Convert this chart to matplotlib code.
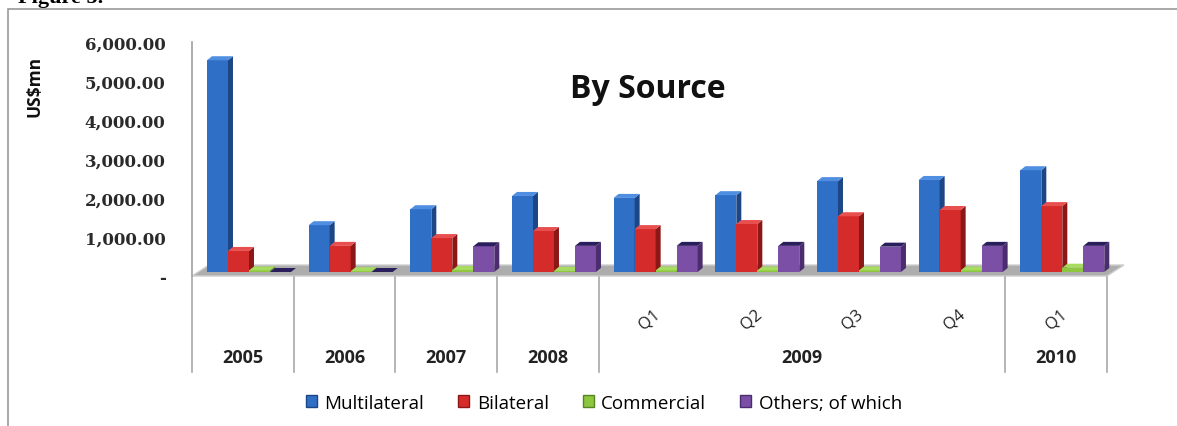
import matplotlib.pyplot as plt
from matplotlib.patches import Polygon, Rectangle, Patch
from matplotlib.ticker import FixedLocator, FuncFormatter
import matplotlib.transforms as mtransforms

# data (US$ mn)
periods = ['2005', '2006', '2007', '2008', 'Q1', 'Q2', 'Q3', 'Q4', 'Q1']
years = ['2005', '2006', '2007', '2008', '2009', '2010']
year_spans = [(0, 1), (1, 2), (2, 3), (3, 4), (4, 8), (8, 9)]
multilateral = [5430, 1200, 1610, 1950, 1900, 1970, 2330, 2360, 2610]
bilateral = [540, 670, 870, 1050, 1100, 1230, 1430, 1590, 1690]
commercial = [40, 20, 50, 30, 40, 40, 40, 40, 110]
others = [0, 0, 660, 670, 670, 670, 650, 670, 670]

series = [multilateral, bilateral, commercial, others]
names = ['Multilateral', 'Bilateral', 'Commercial', 'Others; of which']
front = ['#2f6fc6', '#d62b2b', '#8dc63f', '#7b4fa6']
side = ['#1d4686', '#8c1717', '#5a8424', '#4b2c6e']
top = ['#4f8ee0', '#e85050', '#a8dc60', '#2a1f5c']

W, H = 1177, 427
fig = plt.figure(figsize=(W / 100, H / 100), dpi=100)
ax = fig.add_axes([192 / W, 1 - 277 / H, 915 / W, (277 - 43) / H])
ax.set_xlim(0, 9)
ax.set_ylim(0, 6000)

# pixel -> data helpers
px_x = 9 / 915
px_y = 6000 / (277 - 43)

# floor
fdx, fdy = 17 * px_x, 11 * px_y
floor = Polygon([(0, 0), (9, 0), (9 + fdx, fdy), (fdx, fdy)], closed=True,
                facecolor='#adadad', edgecolor='#cfcfcf', lw=1, clip_on=False, zorder=1)
ax.add_patch(floor)

bw = 21 / 101.7
start = 15 / 101.7
base = 4 * px_y
ddx, ddy = 5 * px_x, 4 * px_y
for i in range(len(periods)):
    for k, vals in enumerate(series):
        x0 = i + start + k * bw
        v = vals[i]
        z = 2 + k * 0.01
        ax.add_patch(Rectangle((x0, base), bw, v, facecolor=front[k], edgecolor='none',
                               clip_on=False, zorder=z))
        ax.add_patch(Polygon([(x0 + bw, base), (x0 + bw + ddx, base + ddy),
                              (x0 + bw + ddx, base + v + ddy), (x0 + bw, base + v)],
                             closed=True, facecolor=side[k], edgecolor='none',
                             clip_on=False, zorder=z))
        ax.add_patch(Polygon([(x0, base + v), (x0 + bw, base + v),
                              (x0 + bw + ddx, base + v + ddy), (x0 + ddx, base + v + ddy)],
                             closed=True, facecolor=top[k], edgecolor='none',
                             clip_on=False, zorder=z))

# axes styling
for s in ['top', 'right', 'bottom']:
    ax.spines[s].set_visible(False)
ax.spines['left'].set_color('#a0a0a0')
ax.spines['left'].set_linewidth(1.2)
ax.yaxis.set_major_locator(FixedLocator(range(0, 6001, 1000)))
ax.yaxis.set_major_formatter(FuncFormatter(lambda v, p: '-' if v == 0 else f'{v:,.2f}'))
ax.tick_params(axis='y', length=0, pad=19, labelsize=12)
for lab in ax.get_yticklabels():
    lab.set_fontfamily('DejaVu Serif')
    lab.set_fontweight('bold')
    lab.set_color('#2a2a2a')
ax.set_xticks([])

# multi-level category axis
trans = mtransforms.blended_transform_factory(ax.transData, fig.transFigure)
def fy(p):
    return 1 - p / H

for b in [0, 1, 2, 3, 4, 8, 9]:
    ax.plot([b, b], [fy(278), fy(373)], color='#a8a8a8', lw=1.2, transform=trans, clip_on=False)
for i, p in enumerate(periods):
    if p.startswith('Q'):
        ax.text(i + 0.5, fy(320), p, transform=trans, rotation=40, ha='center', va='center',
                fontsize=12, family='Open Sans', color='#222222')
for y, (a, b) in zip(years, year_spans):
    ax.text((a + b) / 2, fy(358), y, transform=trans, ha='center', va='center',
            fontsize=13, fontweight='bold', family='Open Sans', color='#222222')

# title and labels
fig.text(648 / W, fy(90), 'By Source', ha='center', va='center', fontsize=23,
         fontweight='bold', family='Open Sans', color='#111111')
fig.text(35 / W, fy(86), 'US$mn', rotation=90, ha='center', va='center', fontsize=12.5,
         fontweight='bold', family='Open Sans', color='#111111')

handles = [Patch(facecolor=front[k], edgecolor=side[k]) for k in range(4)]
fig.legend(handles, names, loc='center', bbox_to_anchor=(604 / W, fy(404)), ncol=4,
           frameon=False, prop={'family': 'Open Sans', 'size': 13.5},
           handlelength=0.6, handleheight=0.6, handletextpad=0.4, columnspacing=1.8)

# frame of the figure box and clipped caption above it
fig.patches.append(Rectangle((8 / W, -0.05), 1.1, 1 - 10 / H + 0.05, transform=fig.transFigure,
                             fill=False, edgecolor='#9a9a9a', lw=1.2))
fig.text(18 / W, fy(3), 'Figure 5.', ha='left', va='baseline', fontsize=16,
         fontweight='bold', family='Liberation Serif')

fig.savefig('out.png', dpi=100)
